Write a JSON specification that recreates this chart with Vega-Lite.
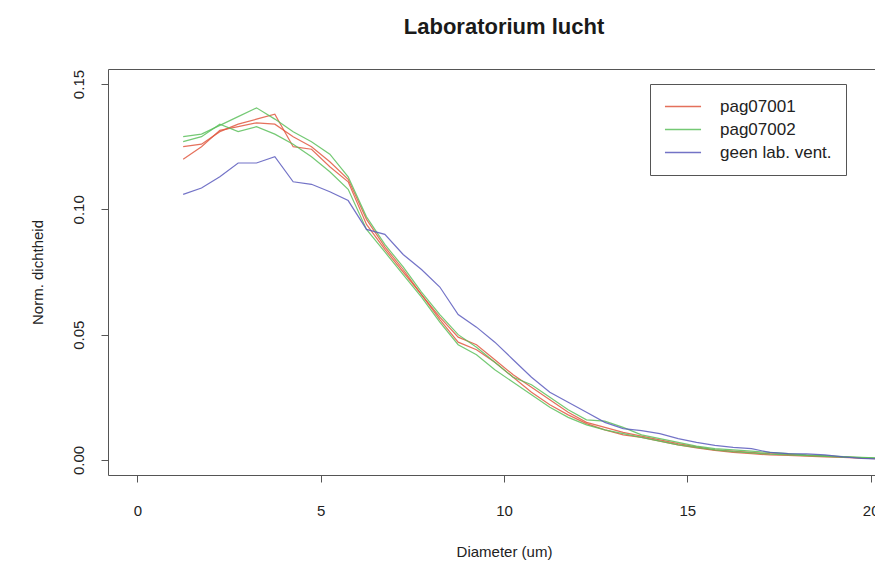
{
  "$schema": "https://vega.github.io/schema/vega-lite/v6.json",
  "autosize": "none",
  "padding": {"left": 108, "top": 69, "right": 0, "bottom": 94},
  "width": 792,
  "height": 406,
  "background": "white",
  "title": {"text": "Laboratorium lucht", "font": "Liberation Sans", "fontSize": 22, "fontWeight": "bold", "color": "#1a1a1a", "anchor": "middle", "offset": 30},
  "config": {
    "view": {"stroke": "#555", "strokeWidth": 1},
    "axis": {"grid": false, "domain": false, "tickColor": "#555", "tickSize": 7, "labelFont": "Liberation Sans", "labelFontSize": 15, "labelColor": "#222", "titleFont": "Liberation Sans", "titleFontSize": 15, "titleFontWeight": "normal", "titleColor": "#222"}
  },
  "data": {"values": [
    {"s":"pag07001","r":"a","d":1.25,"v":0.125},{"s":"pag07001","r":"a","d":1.75,"v":0.126},{"s":"pag07001","r":"a","d":2.25,"v":0.131},{"s":"pag07001","r":"a","d":2.75,"v":0.134},{"s":"pag07001","r":"a","d":3.25,"v":0.136},{"s":"pag07001","r":"a","d":3.75,"v":0.138},{"s":"pag07001","r":"a","d":4.25,"v":0.125},{"s":"pag07001","r":"a","d":4.75,"v":0.124},{"s":"pag07001","r":"a","d":5.25,"v":0.117},{"s":"pag07001","r":"a","d":5.75,"v":0.111},{"s":"pag07001","r":"a","d":6.25,"v":0.094},{"s":"pag07001","r":"a","d":6.75,"v":0.084},{"s":"pag07001","r":"a","d":7.25,"v":0.075},{"s":"pag07001","r":"a","d":7.75,"v":0.066},{"s":"pag07001","r":"a","d":8.25,"v":0.057},{"s":"pag07001","r":"a","d":8.75,"v":0.049},{"s":"pag07001","r":"a","d":9.25,"v":0.046},{"s":"pag07001","r":"a","d":9.75,"v":0.040},{"s":"pag07001","r":"a","d":10.25,"v":0.034},{"s":"pag07001","r":"a","d":10.75,"v":0.029},{"s":"pag07001","r":"a","d":11.25,"v":0.024},{"s":"pag07001","r":"a","d":11.75,"v":0.019},{"s":"pag07001","r":"a","d":12.25,"v":0.015},{"s":"pag07001","r":"a","d":12.75,"v":0.013},{"s":"pag07001","r":"a","d":13.25,"v":0.011},{"s":"pag07001","r":"a","d":13.75,"v":0.0095},{"s":"pag07001","r":"a","d":14.25,"v":0.008},{"s":"pag07001","r":"a","d":14.75,"v":0.0065},{"s":"pag07001","r":"a","d":15.25,"v":0.0052},{"s":"pag07001","r":"a","d":15.75,"v":0.004},{"s":"pag07001","r":"a","d":16.25,"v":0.0035},{"s":"pag07001","r":"a","d":16.75,"v":0.003},{"s":"pag07001","r":"a","d":17.25,"v":0.0025},{"s":"pag07001","r":"a","d":17.75,"v":0.0022},{"s":"pag07001","r":"a","d":18.25,"v":0.0018},{"s":"pag07001","r":"a","d":18.75,"v":0.0015},{"s":"pag07001","r":"a","d":19.25,"v":0.0012},{"s":"pag07001","r":"a","d":19.75,"v":0.0008},{"s":"pag07001","r":"a","d":20.25,"v":0.0005},
    {"s":"pag07001","r":"b","d":1.25,"v":0.120},{"s":"pag07001","r":"b","d":1.75,"v":0.125},{"s":"pag07001","r":"b","d":2.25,"v":0.1315},{"s":"pag07001","r":"b","d":2.75,"v":0.133},{"s":"pag07001","r":"b","d":3.25,"v":0.1345},{"s":"pag07001","r":"b","d":3.75,"v":0.134},{"s":"pag07001","r":"b","d":4.25,"v":0.129},{"s":"pag07001","r":"b","d":4.75,"v":0.125},{"s":"pag07001","r":"b","d":5.25,"v":0.119},{"s":"pag07001","r":"b","d":5.75,"v":0.112},{"s":"pag07001","r":"b","d":6.25,"v":0.096},{"s":"pag07001","r":"b","d":6.75,"v":0.085},{"s":"pag07001","r":"b","d":7.25,"v":0.076},{"s":"pag07001","r":"b","d":7.75,"v":0.066},{"s":"pag07001","r":"b","d":8.25,"v":0.056},{"s":"pag07001","r":"b","d":8.75,"v":0.047},{"s":"pag07001","r":"b","d":9.25,"v":0.044},{"s":"pag07001","r":"b","d":9.75,"v":0.039},{"s":"pag07001","r":"b","d":10.25,"v":0.033},{"s":"pag07001","r":"b","d":10.75,"v":0.027},{"s":"pag07001","r":"b","d":11.25,"v":0.022},{"s":"pag07001","r":"b","d":11.75,"v":0.018},{"s":"pag07001","r":"b","d":12.25,"v":0.0145},{"s":"pag07001","r":"b","d":12.75,"v":0.012},{"s":"pag07001","r":"b","d":13.25,"v":0.010},{"s":"pag07001","r":"b","d":13.75,"v":0.009},{"s":"pag07001","r":"b","d":14.25,"v":0.0075},{"s":"pag07001","r":"b","d":14.75,"v":0.006},{"s":"pag07001","r":"b","d":15.25,"v":0.0048},{"s":"pag07001","r":"b","d":15.75,"v":0.0038},{"s":"pag07001","r":"b","d":16.25,"v":0.003},{"s":"pag07001","r":"b","d":16.75,"v":0.0025},{"s":"pag07001","r":"b","d":17.25,"v":0.002},{"s":"pag07001","r":"b","d":17.75,"v":0.0018},{"s":"pag07001","r":"b","d":18.25,"v":0.0015},{"s":"pag07001","r":"b","d":18.75,"v":0.0012},{"s":"pag07001","r":"b","d":19.25,"v":0.001},{"s":"pag07001","r":"b","d":19.75,"v":0.0007},{"s":"pag07001","r":"b","d":20.25,"v":0.0004},
    {"s":"pag07002","r":"a","d":1.25,"v":0.129},{"s":"pag07002","r":"a","d":1.75,"v":0.130},{"s":"pag07002","r":"a","d":2.25,"v":0.1335},{"s":"pag07002","r":"a","d":2.75,"v":0.137},{"s":"pag07002","r":"a","d":3.25,"v":0.1405},{"s":"pag07002","r":"a","d":3.75,"v":0.136},{"s":"pag07002","r":"a","d":4.25,"v":0.131},{"s":"pag07002","r":"a","d":4.75,"v":0.127},{"s":"pag07002","r":"a","d":5.25,"v":0.122},{"s":"pag07002","r":"a","d":5.75,"v":0.113},{"s":"pag07002","r":"a","d":6.25,"v":0.097},{"s":"pag07002","r":"a","d":6.75,"v":0.086},{"s":"pag07002","r":"a","d":7.25,"v":0.077},{"s":"pag07002","r":"a","d":7.75,"v":0.067},{"s":"pag07002","r":"a","d":8.25,"v":0.058},{"s":"pag07002","r":"a","d":8.75,"v":0.050},{"s":"pag07002","r":"a","d":9.25,"v":0.045},{"s":"pag07002","r":"a","d":9.75,"v":0.039},{"s":"pag07002","r":"a","d":10.25,"v":0.033},{"s":"pag07002","r":"a","d":10.75,"v":0.030},{"s":"pag07002","r":"a","d":11.25,"v":0.025},{"s":"pag07002","r":"a","d":11.75,"v":0.020},{"s":"pag07002","r":"a","d":12.25,"v":0.016},{"s":"pag07002","r":"a","d":12.75,"v":0.0155},{"s":"pag07002","r":"a","d":13.25,"v":0.013},{"s":"pag07002","r":"a","d":13.75,"v":0.010},{"s":"pag07002","r":"a","d":14.25,"v":0.0085},{"s":"pag07002","r":"a","d":14.75,"v":0.007},{"s":"pag07002","r":"a","d":15.25,"v":0.0055},{"s":"pag07002","r":"a","d":15.75,"v":0.0045},{"s":"pag07002","r":"a","d":16.25,"v":0.004},{"s":"pag07002","r":"a","d":16.75,"v":0.0035},{"s":"pag07002","r":"a","d":17.25,"v":0.003},{"s":"pag07002","r":"a","d":17.75,"v":0.0025},{"s":"pag07002","r":"a","d":18.25,"v":0.002},{"s":"pag07002","r":"a","d":18.75,"v":0.0017},{"s":"pag07002","r":"a","d":19.25,"v":0.0013},{"s":"pag07002","r":"a","d":19.75,"v":0.001},{"s":"pag07002","r":"a","d":20.25,"v":0.0008},
    {"s":"pag07002","r":"b","d":1.25,"v":0.127},{"s":"pag07002","r":"b","d":1.75,"v":0.129},{"s":"pag07002","r":"b","d":2.25,"v":0.134},{"s":"pag07002","r":"b","d":2.75,"v":0.131},{"s":"pag07002","r":"b","d":3.25,"v":0.133},{"s":"pag07002","r":"b","d":3.75,"v":0.130},{"s":"pag07002","r":"b","d":4.25,"v":0.126},{"s":"pag07002","r":"b","d":4.75,"v":0.121},{"s":"pag07002","r":"b","d":5.25,"v":0.115},{"s":"pag07002","r":"b","d":5.75,"v":0.108},{"s":"pag07002","r":"b","d":6.25,"v":0.092},{"s":"pag07002","r":"b","d":6.75,"v":0.083},{"s":"pag07002","r":"b","d":7.25,"v":0.074},{"s":"pag07002","r":"b","d":7.75,"v":0.065},{"s":"pag07002","r":"b","d":8.25,"v":0.055},{"s":"pag07002","r":"b","d":8.75,"v":0.046},{"s":"pag07002","r":"b","d":9.25,"v":0.042},{"s":"pag07002","r":"b","d":9.75,"v":0.036},{"s":"pag07002","r":"b","d":10.25,"v":0.031},{"s":"pag07002","r":"b","d":10.75,"v":0.026},{"s":"pag07002","r":"b","d":11.25,"v":0.021},{"s":"pag07002","r":"b","d":11.75,"v":0.017},{"s":"pag07002","r":"b","d":12.25,"v":0.014},{"s":"pag07002","r":"b","d":12.75,"v":0.012},{"s":"pag07002","r":"b","d":13.25,"v":0.0105},{"s":"pag07002","r":"b","d":13.75,"v":0.009},{"s":"pag07002","r":"b","d":14.25,"v":0.0075},{"s":"pag07002","r":"b","d":14.75,"v":0.006},{"s":"pag07002","r":"b","d":15.25,"v":0.005},{"s":"pag07002","r":"b","d":15.75,"v":0.004},{"s":"pag07002","r":"b","d":16.25,"v":0.0033},{"s":"pag07002","r":"b","d":16.75,"v":0.0028},{"s":"pag07002","r":"b","d":17.25,"v":0.0023},{"s":"pag07002","r":"b","d":17.75,"v":0.002},{"s":"pag07002","r":"b","d":18.25,"v":0.0017},{"s":"pag07002","r":"b","d":18.75,"v":0.0014},{"s":"pag07002","r":"b","d":19.25,"v":0.0011},{"s":"pag07002","r":"b","d":19.75,"v":0.0009},{"s":"pag07002","r":"b","d":20.25,"v":0.0007},
    {"s":"geen lab. vent.","r":"a","d":1.25,"v":0.106},{"s":"geen lab. vent.","r":"a","d":1.75,"v":0.1085},{"s":"geen lab. vent.","r":"a","d":2.25,"v":0.113},{"s":"geen lab. vent.","r":"a","d":2.75,"v":0.1185},{"s":"geen lab. vent.","r":"a","d":3.25,"v":0.1185},{"s":"geen lab. vent.","r":"a","d":3.75,"v":0.121},{"s":"geen lab. vent.","r":"a","d":4.25,"v":0.111},{"s":"geen lab. vent.","r":"a","d":4.75,"v":0.110},{"s":"geen lab. vent.","r":"a","d":5.25,"v":0.107},{"s":"geen lab. vent.","r":"a","d":5.75,"v":0.1035},{"s":"geen lab. vent.","r":"a","d":6.25,"v":0.092},{"s":"geen lab. vent.","r":"a","d":6.75,"v":0.090},{"s":"geen lab. vent.","r":"a","d":7.25,"v":0.082},{"s":"geen lab. vent.","r":"a","d":7.75,"v":0.076},{"s":"geen lab. vent.","r":"a","d":8.25,"v":0.069},{"s":"geen lab. vent.","r":"a","d":8.75,"v":0.058},{"s":"geen lab. vent.","r":"a","d":9.25,"v":0.053},{"s":"geen lab. vent.","r":"a","d":9.75,"v":0.047},{"s":"geen lab. vent.","r":"a","d":10.25,"v":0.040},{"s":"geen lab. vent.","r":"a","d":10.75,"v":0.033},{"s":"geen lab. vent.","r":"a","d":11.25,"v":0.027},{"s":"geen lab. vent.","r":"a","d":11.75,"v":0.023},{"s":"geen lab. vent.","r":"a","d":12.25,"v":0.019},{"s":"geen lab. vent.","r":"a","d":12.75,"v":0.015},{"s":"geen lab. vent.","r":"a","d":13.25,"v":0.0125},{"s":"geen lab. vent.","r":"a","d":13.75,"v":0.0117},{"s":"geen lab. vent.","r":"a","d":14.25,"v":0.0105},{"s":"geen lab. vent.","r":"a","d":14.75,"v":0.0085},{"s":"geen lab. vent.","r":"a","d":15.25,"v":0.007},{"s":"geen lab. vent.","r":"a","d":15.75,"v":0.0058},{"s":"geen lab. vent.","r":"a","d":16.25,"v":0.005},{"s":"geen lab. vent.","r":"a","d":16.75,"v":0.0045},{"s":"geen lab. vent.","r":"a","d":17.25,"v":0.003},{"s":"geen lab. vent.","r":"a","d":17.75,"v":0.0025},{"s":"geen lab. vent.","r":"a","d":18.25,"v":0.0024},{"s":"geen lab. vent.","r":"a","d":18.75,"v":0.002},{"s":"geen lab. vent.","r":"a","d":19.25,"v":0.0012},{"s":"geen lab. vent.","r":"a","d":19.75,"v":0.0006},{"s":"geen lab. vent.","r":"a","d":20.25,"v":0.0004}
  ]},
  "mark": {"type": "line", "strokeWidth": 1.2, "opacity": 0.85},
  "encoding": {
    "x": {"field": "d", "type": "quantitative", "scale": {"domain": [-0.8, 20.8], "nice": false, "zero": false},
      "axis": {"values": [0, 5, 10, 15, 20], "labelPadding": 21, "title": "Diameter (um)", "titleY": 76, "titleBaseline": "middle"}},
    "y": {"field": "v", "type": "quantitative", "scale": {"domain": [-0.006, 0.156], "nice": false, "zero": false},
      "axis": {"values": [0, 0.05, 0.1, 0.15], "format": ".2f", "labelAngle": -90, "labelAlign": "center", "labelBaseline": "bottom", "labelPadding": 15, "title": "Norm. dichtheid", "titleX": -71, "titleY": 203, "titleAngle": -90, "titleAlign": "center", "titleBaseline": "middle"}},
    "color": {"field": "s", "type": "nominal",
      "scale": {"domain": ["pag07001", "pag07002", "geen lab. vent."], "range": ["#e0583f", "#5cc05c", "#5b5bbd"]},
      "legend": {"title": null, "orient": "none", "legendX": 542, "legendY": 15, "strokeColor": "#555", "fillColor": "white", "padding": 14, "symbolType": "stroke", "symbolSize": 1300, "symbolStrokeWidth": 1.3, "clipHeight": 17, "labelOffset": 18, "labelFont": "Liberation Sans", "labelFontSize": 17, "labelColor": "#222", "rowPadding": 5}},
    "detail": {"field": "r", "type": "nominal"}
  }
}
